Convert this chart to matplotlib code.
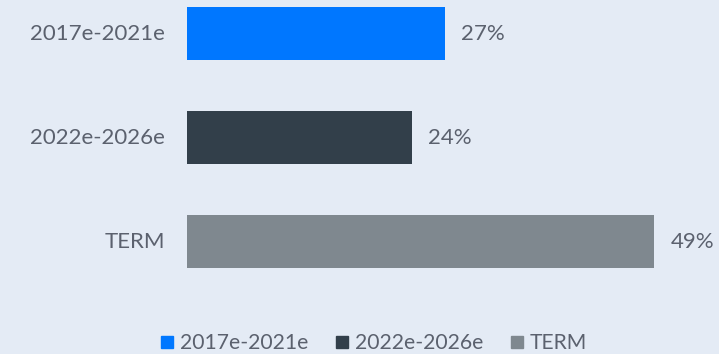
import matplotlib
matplotlib.use("Agg")
import matplotlib.pyplot as plt
from matplotlib.lines import Line2D

categories = ["2017e-2021e", "2022e-2026e", "TERM"]
values = [27.0, 23.6, 49.0]
colors = ["#0077ff", "#323f4a", "#7f888f"]

bg = "#e4ebf5"
txt = "#5b616e"

plt.rcParams['font.family'] = ['Lato', 'DejaVu Sans']

W, H = 719, 354
fig = plt.figure(figsize=(W / 100, H / 100), dpi=100, facecolor=bg)
# axes start at the bar baseline (x=187 px) and run to the right edge
ax = fig.add_axes([187 / W, 0, 1 - 187 / W, 1])
ax.set_facecolor(bg)

px_per_unit = 9.54
ax.set_xlim(0, (W - 187) / px_per_unit)
# bar centres at 33.5, 137.5, 241.5 px from top, spacing 104 px
ax.set_ylim((H - 33.5) / 104, -33.5 / 104)

y = range(len(categories))
ax.barh(y, values, height=0.51, color=colors)

for i, v in enumerate(values):
    ax.annotate(f"{v:.0f}%", (v, i), xytext=(16, 0), textcoords="offset pixels",
                va="center", ha="left", fontsize=16, color=txt)
    ax.annotate(categories[i], (0, i), xytext=(-22, 0), textcoords="offset pixels",
                va="center", ha="right", fontsize=16, color=txt,
                annotation_clip=False)

ax.set_xticks([])
ax.set_yticks([])
for s in ax.spines.values():
    s.set_visible(False)

handles = [Line2D([], [], marker="s", linestyle="none", markersize=8.6,
                  markerfacecolor=c, markeredgecolor=c) for c in colors]
fig.legend(handles, categories, loc="center", bbox_to_anchor=(0.52, 0.03),
           ncol=3, frameon=False, fontsize=15.2, labelcolor=txt,
           handlelength=0.6, handletextpad=0.3, columnspacing=1.3,
           borderpad=0, borderaxespad=0)

fig.savefig("out.png", dpi=100, facecolor=bg)
